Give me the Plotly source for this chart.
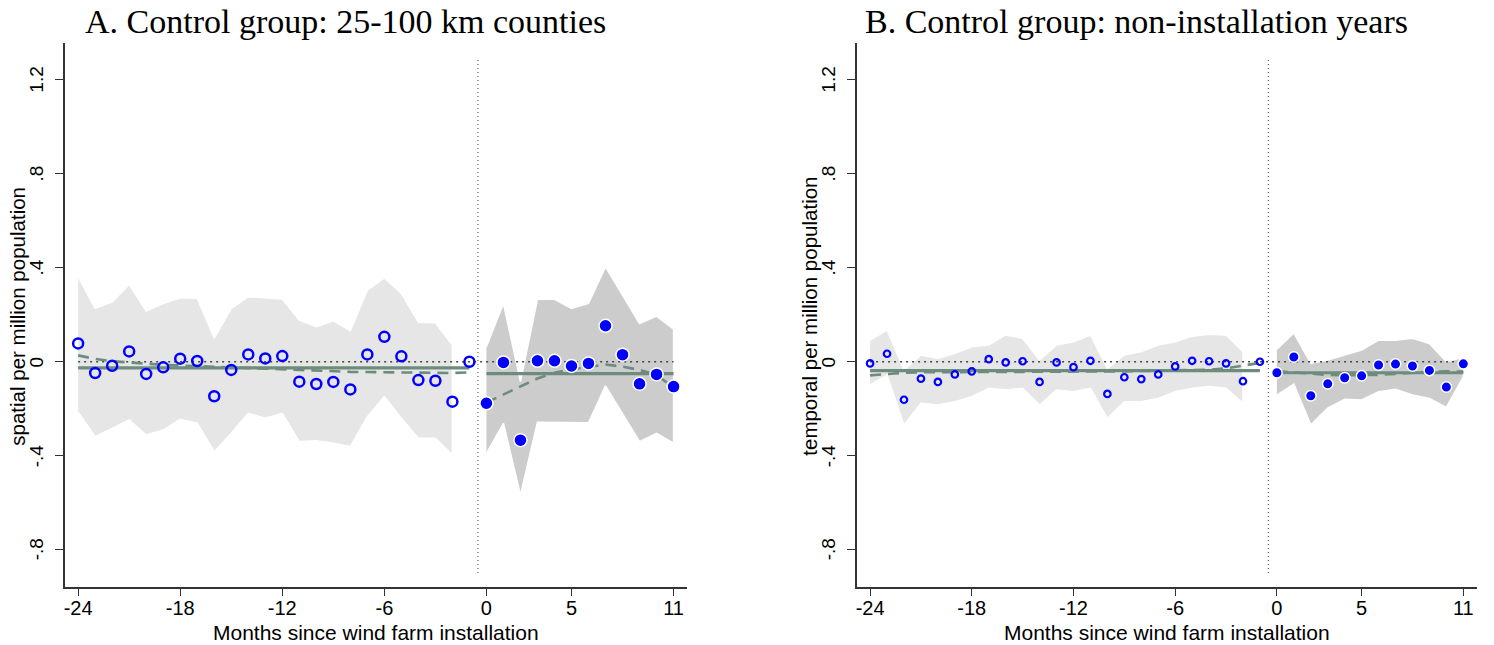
import plotly.graph_objects as go

# Event-time axis: months relative to wind farm installation
months_pre = list(range(-24, 0))      # -24 .. -1 (reference month -1 normalised to 0)
months_pre_ci = list(range(-24, -1))  # confidence band exists for -24 .. -2
months_post = list(range(0, 12))      # 0 .. 11

x_tick_vals = [-24, -18, -12, -6, 0, 5, 11]
x_tick_text = ["-24", "-18", "-12", "-6", "0", "5", "11"]
y_tick_vals = [1.2, 0.8, 0.4, 0, -0.4, -0.8]
y_tick_text = ["1.2", ".8", ".4", "0", "-.4", "-.8"]
treatment_cut = -0.5

# Panel A: spatial control group (25-100 km counties)
a_pre_est = [0.078, -0.048, -0.017, 0.044, -0.052, -0.024, 0.013, 0.003, -0.147, -0.035,
             0.031, 0.014, 0.024, -0.085, -0.095, -0.086, -0.118, 0.031, 0.106, 0.023,
             -0.078, -0.081, -0.170, 0.0]
a_pre_hi = [0.362, 0.227, 0.255, 0.329, 0.216, 0.248, 0.272, 0.270, 0.100, 0.227, 0.277,
            0.272, 0.267, 0.177, 0.149, 0.174, 0.132, 0.305, 0.357, 0.291, 0.168, 0.166, 0.071]
a_pre_lo = [-0.215, -0.319, -0.284, -0.248, -0.312, -0.291, -0.245, -0.262, -0.383, -0.305,
            -0.220, -0.241, -0.220, -0.340, -0.337, -0.347, -0.361, -0.234, -0.149, -0.241,
            -0.326, -0.326, -0.397]
a_post_est = [-0.177, -0.003, -0.334, 0.004, 0.004, -0.018, -0.007, 0.153, 0.030, -0.094,
              -0.054, -0.106]
a_post_hi = [0.064, 0.248, -0.085, 0.266, 0.266, 0.227, 0.248, 0.404, 0.284, 0.163, 0.194, 0.139]
a_post_lo = [-0.390, -0.262, -0.567, -0.258, -0.260, -0.260, -0.260, -0.103, -0.220, -0.340,
             -0.305, -0.347]
a_pre_mean = -0.026
a_post_mean = -0.051
a_pre_smooth = [0.027, 0.012, 0.002, -0.004, -0.010, -0.013, -0.016, -0.019, -0.021, -0.024,
                -0.026, -0.028, -0.031, -0.035, -0.038, -0.040, -0.043, -0.044, -0.045, -0.046,
                -0.048, -0.049, -0.048, -0.045]
a_post_smooth = [-0.174, -0.139, -0.106, -0.071, -0.047, -0.032, -0.022, -0.012, -0.021, -0.035,
                 -0.057, -0.109]

# Panel B: temporal control group (non-installation years)
b_pre_est = [-0.007, 0.034, -0.162, -0.072, -0.086, -0.054, -0.041, 0.011, -0.003, 0.002,
             -0.086, -0.003, -0.023, 0.004, -0.137, -0.066, -0.074, -0.054, -0.020, 0.004,
             0.002, -0.007, -0.083, 0.0]
b_pre_hi = [0.092, 0.135, -0.035, 0.029, 0.014, 0.036, 0.064, 0.071, 0.114, 0.100, 0.007,
            0.071, 0.085, 0.114, -0.028, 0.029, 0.043, 0.071, 0.085, 0.109, 0.117, 0.114, 0.043]
b_pre_lo = [-0.099, -0.057, -0.269, -0.177, -0.184, -0.170, -0.149, -0.113, -0.120, -0.113,
            -0.184, -0.120, -0.128, -0.113, -0.241, -0.170, -0.170, -0.156, -0.128, -0.113,
            -0.106, -0.113, -0.177]
b_post_est = [-0.047, 0.020, -0.145, -0.094, -0.068, -0.060, -0.014, -0.010, -0.018, -0.037,
              -0.108, -0.009]
b_post_hi = [0.053, 0.123, -0.007, 0.007, 0.029, 0.050, 0.092, 0.092, 0.100, 0.078, 0.000, 0.019]
b_post_lo = [-0.142, -0.095, -0.269, -0.198, -0.160, -0.163, -0.128, -0.117, -0.142, -0.156,
             -0.194, -0.064]
b_pre_mean = -0.038
b_post_mean = -0.047
b_pre_smooth = [-0.058, -0.052, -0.047, -0.045, -0.044, -0.043, -0.043, -0.043, -0.043, -0.043,
                -0.042, -0.042, -0.042, -0.042, -0.041, -0.041, -0.040, -0.039, -0.038, -0.036,
                -0.034, -0.028, -0.016, -0.005]
b_post_smooth = [-0.040, -0.046, -0.052, -0.056, -0.058, -0.058, -0.056, -0.052, -0.047, -0.043,
                 -0.041, -0.042]

x_title = "Months since wind farm installation"

# Styling
BLUE = "#0000ff"
GREEN = "#6e8c7d"
BAND_PRE = "#e6e6e6"
BAND_POST = "#cccccc"
AXIS_COL = "#333333"
SANS = "Liberation Sans"
SERIF = "Liberation Serif"

W, H = 1494, 645
plot_top, plot_bottom = 43.3, 586.7
panels = [
    dict(left=64.7, right=687.0, title="A. Control group: 25-100 km counties", title_cx=345.5,
         ylabel="spatial per million population",
         pre=(a_pre_est, a_pre_hi, a_pre_lo, a_pre_mean, a_pre_smooth),
         post=(a_post_est, a_post_hi, a_post_lo, a_post_mean, a_post_smooth),
         open_size=10, open_lw=2.5, fill_size=13),
    dict(left=856.7, right=1476.7, title="B. Control group: non-installation years", title_cx=1136.5,
         ylabel="temporal per million population",
         pre=(b_pre_est, b_pre_hi, b_pre_lo, b_pre_mean, b_pre_smooth),
         post=(b_post_est, b_post_hi, b_post_lo, b_post_mean, b_post_smooth),
         open_size=6.5, open_lw=2.2, fill_size=10.5),
]

fig = go.Figure()
annotations = []
shapes = []

for i, p in enumerate(panels):
    sfx = "" if i == 0 else str(i + 1)
    xa, ya = "x" + sfx, "y" + sfx
    pre_est, pre_hi, pre_lo, pre_mean, pre_smooth = p["pre"]
    post_est, post_hi, post_lo, post_mean, post_smooth = p["post"]

    # confidence bands
    for xs, hi, lo, col in [(months_pre_ci, pre_hi, pre_lo, BAND_PRE),
                            (months_post, post_hi, post_lo, BAND_POST)]:
        fig.add_trace(go.Scatter(
            x=xs + xs[::-1], y=hi + lo[::-1], fill="toself", fillcolor=col,
            line=dict(color="white", width=1.5), mode="lines", hoverinfo="skip",
            showlegend=False, xaxis=xa, yaxis=ya))

    # zero reference line
    fig.add_trace(go.Scatter(
        x=[months_pre[0], months_post[-1]], y=[0, 0], mode="lines",
        line=dict(color="#444444", width=1.6, dash="2px,4px"),
        showlegend=False, hoverinfo="skip", xaxis=xa, yaxis=ya))

    # period means
    for xs, m in [(months_pre, pre_mean), (months_post, post_mean)]:
        fig.add_trace(go.Scatter(
            x=[xs[0], xs[-1]], y=[m, m], mode="lines",
            line=dict(color=GREEN, width=3.2), showlegend=False, xaxis=xa, yaxis=ya))

    # smoothed fits
    for xs, sm in [(months_pre, pre_smooth), (months_post, post_smooth)]:
        fig.add_trace(go.Scatter(
            x=xs, y=sm, mode="lines", line=dict(color=GREEN, width=2.6, dash="11px,7px"),
            showlegend=False, xaxis=xa, yaxis=ya))

    # point estimates
    fig.add_trace(go.Scatter(
        x=months_pre, y=pre_est, mode="markers",
        marker=dict(symbol="circle-open", size=p["open_size"], color=BLUE,
                    line=dict(color=BLUE, width=p["open_lw"])),
        showlegend=False, xaxis=xa, yaxis=ya))
    fig.add_trace(go.Scatter(
        x=months_post, y=post_est, mode="markers",
        marker=dict(symbol="circle", size=p["fill_size"], color=BLUE,
                    line=dict(color="white", width=1.5)),
        showlegend=False, xaxis=xa, yaxis=ya))

    # installation cut-off
    shapes.append(dict(type="line", xref=xa, yref=ya + " domain", x0=treatment_cut,
                       x1=treatment_cut, y0=0.025, y1=0.975,
                       line=dict(color="#666666", width=1.2, dash="1px,3px")))

    # panel title
    annotations.append(dict(text=p["title"], xref="paper", yref="paper",
                            x=p["title_cx"] / W, y=1 - 22 / H, xanchor="center",
                            yanchor="middle", showarrow=False,
                            font=dict(family=SERIF, size=34, color="black")))
    # axis titles
    annotations.append(dict(text=x_title, xref="paper", yref="paper",
                            x=(p["left"] + p["right"]) / 2 / W, y=1 - 632 / H,
                            xanchor="center", yanchor="middle", showarrow=False,
                            font=dict(family=SANS, size=21, color="black")))
    annotations.append(dict(text=p["ylabel"], xref="paper", yref="paper",
                            x=(p["left"] - 47) / W, y=1 - 316 / H, textangle=-90,
                            xanchor="center", yanchor="middle", showarrow=False,
                            font=dict(family=SANS, size=20.5, color="black")))
    # vertical y tick labels, placed on the panel's y scale
    for v, t in zip(y_tick_vals, y_tick_text):
        annotations.append(dict(text=t, xref="paper", yref=ya, x=(p["left"] - 28) / W, y=v,
                                textangle=-90, xanchor="center", yanchor="middle",
                                showarrow=False,
                                font=dict(family=SANS, size=19, color="black")))

    dom_x = [p["left"] / W, p["right"] / W]
    dom_y = [1 - plot_bottom / H, 1 - plot_top / H]
    axis_common = dict(showline=True, linecolor=AXIS_COL, linewidth=1.5, ticks="outside",
                       ticklen=8, tickcolor=AXIS_COL, tickwidth=1.3, showgrid=False,
                       zeroline=False)
    fig.layout["xaxis" + sfx] = dict(
        domain=dom_x, range=[-24.79, 11.79], tickvals=x_tick_vals, ticktext=x_tick_text,
        anchor=ya, ticklabelstandoff=-5,
        tickfont=dict(family=SANS, size=20, color="black"), **axis_common)
    fig.layout["yaxis" + sfx] = dict(
        domain=dom_y, range=[-0.958, 1.356], tickvals=y_tick_vals, showticklabels=False,
        anchor=xa, **axis_common)

fig.update_layout(width=W, height=H, margin=dict(l=0, r=0, t=0, b=0),
                  paper_bgcolor="white", plot_bgcolor="white",
                  annotations=annotations, shapes=shapes, showlegend=False)

fig.write_html("out.html")
